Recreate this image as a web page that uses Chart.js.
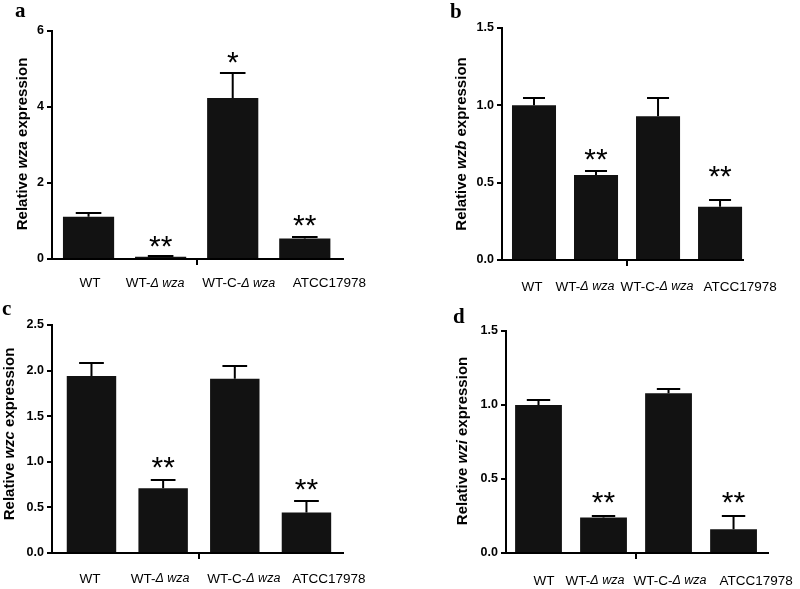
<!DOCTYPE html>
<html><head><meta charset="utf-8">
<script src="https://cdn.jsdelivr.net/npm/chart.js@4/dist/chart.umd.min.js"></script>
<style>
html,body{margin:0;padding:0;background:#fff;}
#wrap{position:relative;width:800px;height:589px;overflow:hidden;background:#fff;}
canvas{position:absolute;}
</style></head><body><div id="wrap">
<canvas id="ca" width="400" height="295" style="left:0;top:0"></canvas>
<canvas id="cb" width="400" height="295" style="left:400px;top:0"></canvas>
<canvas id="cc" width="400" height="294" style="left:0;top:295px"></canvas>
<canvas id="cd" width="400" height="294" style="left:400px;top:295px"></canvas>
</div>
<script>
// ---- data ----
const categories = ["WT", "WT-\u0394wza", "WT-C-\u0394wza", "ATCC17978"];
const xPositions = [0, 1, 2, 3];

const wzaMean = [1.11, 0.06, 4.24, 0.54];
const wzaErr  = [0.11, 0.03, 0.65, 0.03];
const wzaStars = ["", "**", "*", "**"];
const wzaStarLevel = [null, 0.53, 5.37, 1.08];
const wzaTicks = [0, 2, 4, 6];

const wzbMean = [1.00, 0.55, 0.93, 0.345];
const wzbErr  = [0.05, 0.025, 0.12, 0.043];
const wzbStars = ["", "**", "", "**"];
const wzbStarLevel = [null, 0.70, null, 0.59];
const wzbTicks = [0, 0.5, 1.0, 1.5];

const wzcMean = [1.94, 0.71, 1.91, 0.445];
const wzcErr  = [0.14, 0.09, 0.14, 0.12];
const wzcStars = ["", "**", "", "**"];
const wzcStarLevel = [null, 1.02, null, 0.78];
const wzcTicks = [0, 0.5, 1.0, 1.5, 2.0, 2.5];

const wziMean = [1.00, 0.24, 1.08, 0.16];
const wziErr  = [0.033, 0.01, 0.027, 0.087];
const wziStars = ["", "**", "", "**"];
const wziStarLevel = [null, 0.393, null, 0.393];
const wziTicks = [0, 0.5, 1.0, 1.5];

// ---- layout / style ----
const SANS = "'Liberation Sans', Arial, Helvetica, sans-serif";
const SERIF = "'Liberation Serif', 'Times New Roman', serif";

const panels = {
  ca: {letter: "a", gene: "wza", mean: wzaMean, err: wzaErr, stars: wzaStars, starLevel: wzaStarLevel, ticks: wzaTicks, dec: 0,
       canvas: [0, 0], pad: {left: 12, top: 31, right: 57, bottom: 36}, xmin: -0.507, xmax: 3.53, barPct: 0.71,
       letterPos: [15, 17], titlePos: [23, 144], shift: [1.5, -5.5, 6, 24.5], labelDy: 24.5},
  cb: {letter: "b", gene: "wzb", mean: wzbMean, err: wzbErr, stars: wzbStars, starLevel: wzbStarLevel, ticks: wzbTicks, dec: 1,
       canvas: [400, 0], pad: {left: 62, top: 28, right: 57, bottom: 35}, xmin: -0.516, xmax: 3.37, barPct: 0.71,
       letterPos: [450, 18], titlePos: [462, 144], shift: [-2, -11, -1, 20], labelDy: 27},
  cc: {letter: "c", gene: "wzc", mean: wzcMean, err: wzcErr, stars: wzcStars, starLevel: wzcStarLevel, ticks: wzcTicks, dec: 1,
       canvas: [0, 295], pad: {left: 12, top: 30, right: 57, bottom: 36}, xmin: -0.551, xmax: 3.51, barPct: 0.69,
       letterPos: [2, 315], titlePos: [10, 434], shift: [-1.5, -3, 9, 22.5], labelDy: 26},
  cd: {letter: "d", gene: "wzi", mean: wziMean, err: wziErr, stars: wziStars, starLevel: wziStarLevel, ticks: wziTicks, dec: 1,
       canvas: [400, 295], pad: {left: 66, top: 36, right: 32, bottom: 36}, xmin: -0.5, xmax: 3.53, barPct: 0.72,
       letterPos: [453, 323], titlePos: [463, 441], shift: [5.5, -8.5, 1.5, 22.5], labelDy: 28}
};

function labelParts(lbl) {
  const k = lbl.indexOf("\u0394");
  if (k < 0) return [[lbl, false]];
  return [[lbl.slice(0, k), false], ["\u0394 " + lbl.slice(k + 1), true]];
}

function drawParts(ctx, parts, cx, cy, size, weight, italicSize) {
  const fontOf = p => (p[1] ? "italic " : "") + weight + " " + (p[1] && italicSize ? italicSize : size) + "px " + SANS;
  let total = 0;
  const widths = parts.map(p => {
    ctx.font = fontOf(p);
    const w = ctx.measureText(p[0]).width; total += w; return w;
  });
  let x = cx - total / 2;
  parts.forEach((p, i) => {
    ctx.font = fontOf(p);
    ctx.fillText(p[0], x, cy);
    x += widths[i];
  });
}

const decor = {
  id: 'decor',
  afterDatasetsDraw(chart) {
    const P = panels[chart.canvas.id];
    const ctx = chart.ctx, xs = chart.scales.x, ys = chart.scales.y;
    const meta = chart.getDatasetMeta(0);
    const ox = P.canvas[0], oy = P.canvas[1];
    ctx.save();
    // error bars (upper only)
    ctx.strokeStyle = '#000'; ctx.lineWidth = 2;
    meta.data.forEach((bar, i) => {
      const y0 = ys.getPixelForValue(P.mean[i]);
      const y1 = Math.round(ys.getPixelForValue(P.mean[i] + P.err[i]));
      const half = bar.width / 4;
      ctx.beginPath();
      ctx.moveTo(bar.x, y0); ctx.lineTo(bar.x, y1);
      ctx.moveTo(bar.x - half, y1); ctx.lineTo(bar.x + half, y1);
      ctx.stroke();
    });
    // center tick on x axis
    const base = ys.getPixelForValue(0);
    const xm = Math.round(xs.getPixelForValue(1.5));
    ctx.beginPath(); ctx.moveTo(xm, base); ctx.lineTo(xm, base + 6); ctx.stroke();
    // significance stars
    ctx.fillStyle = '#000';
    ctx.textAlign = 'center'; ctx.textBaseline = 'alphabetic';
    ctx.font = "30px " + SANS;
    P.stars.forEach((s, i) => {
      if (!s) return;
      const cy = ys.getPixelForValue(P.starLevel[i]);
      ctx.fillText(s, xs.getPixelForValue(xPositions[i]), cy + 17);
    });
    // category labels
    ctx.textAlign = 'left'; ctx.textBaseline = 'middle';
    categories.forEach((c, i) => {
      drawParts(ctx, labelParts(c), xs.getPixelForValue(xPositions[i]) + P.shift[i], base + P.labelDy, 13.5, "normal", 12.5);
    });
    // y title
    ctx.save();
    ctx.translate(P.titlePos[0] - ox, P.titlePos[1] - oy);
    ctx.rotate(-Math.PI / 2);
    drawParts(ctx, [["Relative ", false], [P.gene, true], [" expression", false]], 0, 0, 15, "bold");
    ctx.restore();
    // panel letter
    ctx.font = "bold 21px " + SERIF;
    ctx.textAlign = 'left'; ctx.textBaseline = 'alphabetic';
    ctx.fillText(P.letter, P.letterPos[0] - ox, P.letterPos[1] - oy);
    ctx.restore();
  }
};

Object.keys(panels).forEach(id => {
  const P = panels[id];
  const ymax = P.ticks[P.ticks.length - 1];
  new Chart(document.getElementById(id), {
    type: 'bar',
    data: {
      datasets: [{
        data: P.mean.map((v, i) => ({x: xPositions[i], y: v})),
        backgroundColor: '#121212', borderWidth: 0,
        categoryPercentage: 1.0, barPercentage: P.barPct
      }]
    },
    plugins: [decor],
    options: {
      responsive: false, animation: false, events: [],
      layout: {padding: P.pad},
      plugins: {legend: {display: false}, tooltip: {enabled: false}},
      scales: {
        x: {
          type: 'linear', min: P.xmin, max: P.xmax, offset: false,
          ticks: {display: false}, grid: {display: false, offset: false},
          border: {display: true, color: '#000', width: 2},
          afterFit(s) { s.height = 0; }
        },
        y: {
          min: 0, max: ymax,
          afterBuildTicks(s) { s.ticks = P.ticks.map(v => ({value: v})); },
          ticks: {
            color: '#000', padding: 3,
            font: {family: SANS, size: 12.5, weight: 'bold'},
            callback: v => Number(v).toFixed(P.dec)
          },
          grid: {display: true, drawOnChartArea: false, drawTicks: true, tickLength: 5, color: '#000', lineWidth: 2},
          border: {display: true, color: '#000', width: 2},
          afterFit(s) { s.width = 40; }
        }
      }
    }
  });
});
</script></body></html>
